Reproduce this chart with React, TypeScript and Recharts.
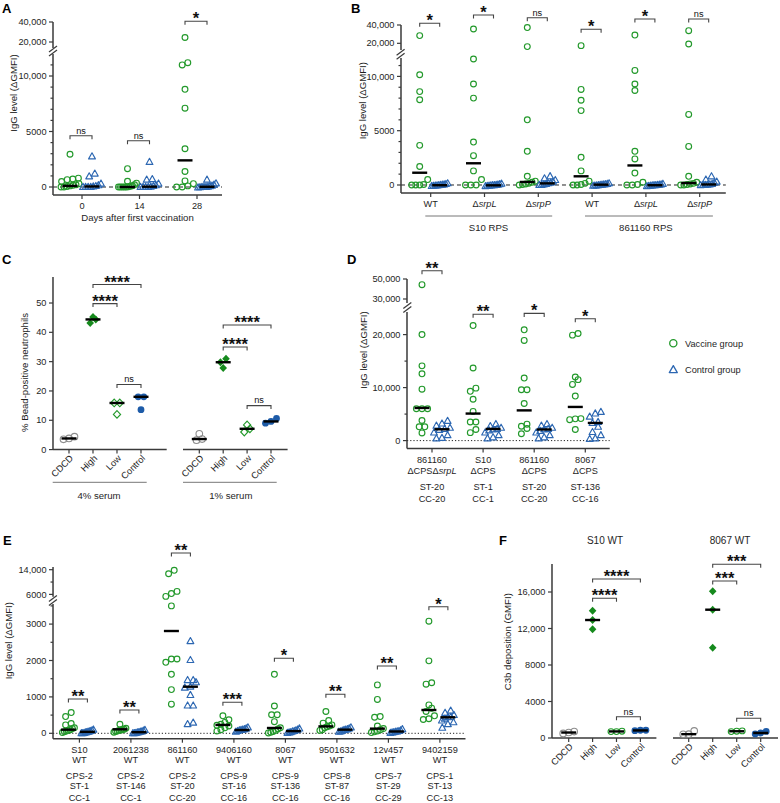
import React from 'react';
import { ScatterChart, Scatter, XAxis, YAxis, ReferenceLine } from 'recharts';

const FONT = '"Liberation Sans", Arial, Helvetica, sans-serif';
const FS = 9.2;
const INK = '#1e1e1e';
const AXC = '#3a3a3a';
const GREEN = '#23992b';
const GREEN_D = '#168a1d';
const BLUE = '#2c67b2';
const BLUE_D = '#1d5ba8';
const GREY = '#8d8d8d';

/* ---------- A: IgG over the vaccination course ---------- */
const daysA = ['0', '14', '28'];
const vaccineA = [
  [2950, 800, 720, 660, 500, 300, 200, 150, 100, 50, 0, 0],
  [1650, 520, 350, 200, 120, 60, 20, 0, 0, 0, 0, 0],
  [24500, 11200, 11000, 8800, 7100, 3450, 1400, 550, 300, 100, 0, 0],
];
const controlA = [
  [2750, 1200, 950, 300, 150, 80, 40, 0, 0, 0, 0],
  [2250, 700, 650, 300, 150, 80, 30, 0, 0, 0, 0],
  [650, 320, 200, 120, 60, 30, 0, 0, 0, -30, -50],
];
const vaccineMedA = [100, 0, 2400];
const controlMedA = [50, 30, 20];
const sigA = ['ns', 'ns', '*'];
const sigLevelA = [4620, 4170, 40700];

/* ---------- B: RPS antigens ---------- */
const strainB = ['WT', 'srpL', 'srpP', 'WT', 'srpL', 'srpP'];
const vaccineB = [
  [28400, 10150, 8600, 7850, 3650, 1700, 500, 50, 0, 0, 0],
  [35600, 11600, 9300, 8000, 3950, 2700, 1300, 500, 0, 0, 0],
  [37200, 16400, 6000, 3100, 800, 350, 250, 150, 100, 50, 0],
  [17450, 8800, 7800, 6850, 2550, 1300, 350, 150, 50, 0, 0],
  [29000, 10550, 9300, 8700, 3100, 2400, 1100, 250, 50, 0, 0],
  [33800, 19300, 6500, 3550, 800, 250, 150, 100, 50, 0, 0],
];
const controlB = [
  [150, 80, 40, 20, 0, -20, -40, -60, -80, -100],
  [120, 60, 30, 0, -20, -30, -50, -70, -90, -110],
  [800, 600, 450, 300, 200, 150, 100, 50, 0, 0],
  [150, 100, 60, 40, 20, 0, -20, -40, -60, -80],
  [100, 50, 20, 0, -20, -30, -50, -70, -90, -110],
  [790, 490, 300, 200, 100, 50, 30, 0, 0, -20],
];
const vaccineMedB = [1130, 2000, 280, 800, 1800, 180];
const controlMedB = [-20, -30, 150, 30, -20, 50];
const sigB = ['*', '*', 'ns', '*', '*', 'ns'];
const sigLevelB = [41850, 50900, 47960, 35310, 46540, 46540];

/* ---------- C: bead uptake by neutrophils ---------- */
const groupsC = ['CDCD', 'High', 'Low', 'Control'];
const cdcd4 = [3.5, 4.4, 3.8];
const high4 = [43.2, 45.2, 44.4];
const low4 = [15.9, 12.0, 15.9];
const control4 = [18.0, 13.6, 18.0];
const med4 = [3.8, 44.4, 15.9, 18.0];
const cdcd1 = [3.2, 5.4, 3.6];
const high1 = [31.0, 27.8, 29.8];
const low1 = [6.0, 8.4, 7.1];
const control1 = [9.0, 10.6, 9.6];
const med1 = [3.6, 29.8, 7.1, 9.6];
const sigC4 = [
  { a: 1, b: 2, y: 49.8, t: '****' },
  { a: 1, b: 3, y: 56.3, t: '****' },
  { a: 2, b: 3, y: 22.2, t: 'ns' },
];
const sigC1 = [
  { a: 1, b: 2, y: 35.0, t: '****' },
  { a: 1, b: 3, y: 42.5, t: '****' },
  { a: 2, b: 3, y: 15.0, t: 'ns' },
];

/* ---------- D: capsule-deficient strains ---------- */
const strainD = ['861160', 'S10', '861160', '8067'];
const mutantD = ['ΔCPSΔsrpL', 'ΔCPS', 'ΔCPS', 'ΔCPS'];
const stD = ['ST-20', 'ST-1', 'ST-20', 'ST-136'];
const ccD = ['CC-20', 'CC-1', 'CC-20', 'CC-16'];
const vaccineD = [
  [44300, 20000, 14100, 12600, 9700, 6000, 6000, 6000, 3800, 2600, 2600, 1450],
  [21700, 13700, 9900, 9300, 7800, 5500, 3500, 3500, 2100, 1500],
  [20900, 18900, 11800, 9600, 9600, 7000, 3100, 2700, 2300, 1300],
  [20200, 19900, 12000, 11500, 10600, 8400, 4150, 4100, 3950, 2100],
];
const controlD = [
  [3700, 3200, 2800, 2400, 2200, 2000, 1500, 1000, 500, 400],
  [3100, 2700, 2400, 2200, 2100, 1900, 1500, 1000, 600, 400],
  [3100, 2800, 2400, 2200, 2100, 1800, 1500, 1000, 600, 400],
  [5400, 5100, 4500, 3500, 3300, 2600, 1600, 1000, 400, 300],
];
const vaccineMedD = [6160, 5100, 5700, 6350];
const controlMedD = [2140, 2200, 2100, 3330];
const sigD = ['**', '**', '*', '*'];
const sigLevelD = [58300, 23830, 24000, 23000];

/* ---------- E: wild-type strains ---------- */
const strainE = ['S10', '2061238', '861160', '9406160', '8067', '9501632', '12v457', '9402159'];
const cpsE = ['CPS-2', 'CPS-2', 'CPS-2', 'CPS-9', 'CPS-9', 'CPS-8', 'CPS-7', 'CPS-1'];
const stE = ['ST-1', 'ST-146', 'ST-20', 'ST-16', 'ST-136', 'ST-87', 'ST-29', 'ST-13'];
const ccE = ['CC-1', 'CC-1', 'CC-20', 'CC-16', 'CC-16', 'CC-16', 'CC-29', 'CC-13'];
const vaccineE = [
  [570, 460, 270, 230, 150, 130, 100, 80, 60, 40, 20],
  [250, 140, 110, 100, 90, 80, 60, 50, 30],
  [13800, 12700, 6970, 6260, 5350, 3500, 2040, 2040, 1950, 1620, 1200, 800],
  [480, 370, 300, 250, 220, 200, 150, 100, 60],
  [1620, 750, 510, 510, 320, 150, 120, 80, 50, 30, 10],
  [600, 350, 280, 230, 200, 180, 150, 100, 80],
  [1330, 930, 460, 440, 200, 130, 100, 60, 40, 20],
  [3080, 1990, 1390, 1350, 780, 690, 600, 480, 400, 380],
];
const controlE = [
  [100, 80, 60, 50, 40, 30, 20, 10, 0, 0],
  [90, 70, 50, 40, 30, 20, 10, 0, 0],
  [2530, 2010, 1460, 1460, 1400, 1280, 1250, 1050, 760, 760, 290, 250],
  [160, 130, 110, 100, 90, 80, 60, 40],
  [130, 100, 80, 60, 50, 30, 20, 10],
  [160, 130, 110, 100, 90, 70, 50, 40],
  [110, 80, 60, 50, 40, 30, 20, 10],
  [620, 560, 500, 450, 440, 400, 350, 300, 250, 150],
];
const vaccineMedE = [100, 110, 2810, 230, 146, 190, 128, 640];
const controlMedE = [40, 30, 1280, 90, 60, 100, 50, 440];
const sigE = ['**', '**', '**', '***', '*', '**', '**', '*'];
const sigLevelE = [942, 640, 19400, 852, 2060, 1071, 1849, 3478];

/* ---------- F: C3b deposition ---------- */
const groupsF = ['CDCD', 'High', 'Low', 'Control'];
const cdcdS10 = [700, 500, 600];
const highS10 = [13950, 12930, 11910];
const lowS10 = [750, 700, 700];
const controlS10 = [850, 800, 850];
const medS10 = [600, 12930, 720, 830];
const cdcd8067 = [770, 400, 420];
const high8067 = [16080, 14060, 9900];
const low8067 = [780, 750, 700];
const control8067 = [720, 450, 550];
const med8067 = [420, 14060, 740, 550];
const sigS10 = [
  { a: 1, b: 2, y: 15310, t: '****' },
  { a: 1, b: 3, y: 17430, t: '****' },
  { a: 2, b: 3, y: 2330, t: 'ns' },
];
const sig8067 = [
  { a: 1, b: 2, y: 17200, t: '***' },
  { a: 1, b: 3, y: 19040, t: '***' },
  { a: 2, b: 3, y: 2160, t: 'ns' },
];

/* ---------- shared drawing helpers ---------- */
type Mark = 'ring' | 'tri' | 'ringGrey' | 'dot' | 'diamond' | 'diamondOpen' | 'median';
type Seg = { top: number; bottom: number; lo: number; hi: number; ticks: [number, string][] };
type Family = { cols: number[]; data: number[][]; med: number[]; offPx: number; mark: Mark; color: string };
type Geo = { l: number; r: number; c0: number; step: number; segs: Seg[]; spread: number };
type Bracket = { a: number; b: number; y: number; t: string };

function ticksEvery(step: number, max: number, labels: Record<number, string>, min = 0): [number, string][] {
  const out: [number, string][] = [];
  for (let v = min; v <= max + 1e-9; v += step) out.push([v, labels[v] ?? '']);
  return out;
}

function drawMark(kind: Mark, cx: number, cy: number, color: string) {
  if (kind === 'median')
    return <line x1={cx - 7.5} x2={cx + 7.5} y1={cy} y2={cy} stroke="#000" strokeWidth={2.4} />;
  if (kind === 'ring')
    return <circle cx={cx} cy={cy} r={2.9} fill="none" stroke={color} strokeWidth={1.15} />;
  if (kind === 'tri')
    return (
      <path d={`M${cx},${cy - 3.7}L${cx + 3.4},${cy + 2.4}L${cx - 3.4},${cy + 2.4}Z`} fill="none"
        stroke={color} strokeWidth={1.15} strokeLinejoin="round" />
    );
  if (kind === 'dot') return <circle cx={cx} cy={cy} r={3.4} fill={color} />;
  if (kind === 'diamond')
    return <path d={`M${cx},${cy - 4}L${cx + 3.8},${cy}L${cx},${cy + 4}L${cx - 3.8},${cy}Z`} fill={color} />;
  if (kind === 'diamondOpen')
    return (
      <path d={`M${cx},${cy - 3.8}L${cx + 3.6},${cy}L${cx},${cy + 3.8}L${cx - 3.6},${cy}Z`} fill="none"
        stroke={color} strokeWidth={1.15} />
    );
  return <circle cx={cx} cy={cy} r={3.3} fill="none" stroke={color} strokeWidth={1.1} />;
}

function drawBracket(lp: any, text: string) {
  const { x1, x2, y1 } = lp;
  const star = text !== 'ns';
  return (
    <g>
      <path d={`M${x1},${y1 + 3.5}V${y1}H${x2}V${y1 + 3.5}`} fill="none" stroke="#444" strokeWidth={1.1} />
      <text x={(x1 + x2) / 2} y={star ? y1 + 3 : y1 - 2.2} textAnchor="middle" fontFamily={FONT}
        fontSize={star ? 16.5 : FS} fontWeight={star ? 700 : 400} fill="#111">
        {text}
      </text>
    </g>
  );
}

function segPx(s: Seg, v: number) {
  return s.bottom - ((v - s.lo) / (s.hi - s.lo)) * (s.bottom - s.top);
}
function pxOf(segs: Seg[], v: number) {
  const s = segs.find((q) => v >= q.lo && v <= q.hi) ?? (v > segs[0].hi ? segs[0] : segs[segs.length - 1]);
  return segPx(s, v);
}
// horizontal spread of points that share a row, in pixels
function spreadOffsets(vals: number[], segs: Seg[], spread: number, rowH = 5.5, gap = 5.6) {
  const idx = vals.map((_, i) => i).sort((a, b) => vals[a] - vals[b]);
  const out = new Array(vals.length).fill(0);
  let row: number[] = [];
  let rowStart = 0;
  const flush = () => {
    const n = row.length;
    const sp = n > 1 ? Math.min(gap, (2 * spread) / (n - 1)) : 0;
    row.forEach((id, k) => (out[id] = (k - (n - 1) / 2) * sp));
  };
  for (const id of idx) {
    const py = pxOf(segs, vals[id]);
    if (row.length && rowStart - py < rowH) row.push(id);
    else {
      if (row.length) flush();
      row = [id];
      rowStart = py;
    }
  }
  flush();
  return out;
}

const yTick = (ticks: [number, string][]) => (tp: any) => {
  const { x, y, payload } = tp;
  const k = ticks.find((q) => Math.abs(q[0] - payload.value) < 1e-6);
  const lab = k ? k[1] : '';
  return (
    <g>
      <line x1={x - (lab ? 4 : 2.5)} x2={x} y1={y} y2={y} stroke={AXC} strokeWidth={1.2} />
      {lab && (
        <text x={x - 6.5} y={y} dy="0.34em" textAnchor="end" fontSize={FS} fill={INK} fontFamily={FONT}>
          {lab}
        </text>
      )}
    </g>
  );
};

type PlotProps = {
  l: number;
  r: number;
  seg: Seg;
  xd: number[];
  xCount: number;
  xLabel?: (i: number, x: number, y: number) => React.ReactNode;
  showY: boolean;
  series: { pts: { x: number; y: number }[]; mark: Mark; color: string }[];
  brackets: Bracket[];
  zero?: string;
};

function Plot({ l, r, seg, xd, xCount, xLabel, showY, series, brackets, zero }: PlotProps) {
  const PL = 62, PT = 46, PR = 16;
  const PB = xLabel ? 90 : 6;
  const w = r - l + PL + PR;
  const h = seg.bottom - seg.top + PT + PB;
  const xTicks = Array.from({ length: xCount }, (_, i) => i);
  return (
    <div style={{ position: 'absolute', left: l - PL, top: seg.top - PT, width: w, height: h }}>
      <ScatterChart width={w} height={h}
        margin={{ top: PT, right: PR, bottom: xLabel ? 0 : PB, left: showY ? 0 : PL }}>
        <XAxis type="number" dataKey="x" domain={xd} hide={!xLabel} height={PB} ticks={xTicks} interval={0}
          tickLine={false} tickSize={0} tickMargin={0} axisLine={{ stroke: AXC, strokeWidth: 1.5 }}
          tick={(tp: any) =>
            xLabel ? (
              <g>
                <line x1={tp.x} x2={tp.x} y1={tp.y} y2={tp.y + 4} stroke={AXC} strokeWidth={1.2} />
                {xLabel(Math.round(tp.payload.value), tp.x, tp.y)}
              </g>
            ) : (
              <g />
            )
          } />
        <YAxis type="number" dataKey="y" domain={[seg.lo, seg.hi]} hide={!showY} width={PL}
          ticks={seg.ticks.map((t) => t[0])} interval={0} tickLine={false} tickSize={0} tickMargin={0}
          axisLine={{ stroke: AXC, strokeWidth: 1.5 }} tick={yTick(seg.ticks)} />
        {zero && <ReferenceLine y={0} stroke="#222" strokeWidth={1} strokeDasharray={zero} />}
        {series.map((s, i) => (
          <Scatter key={i} data={s.pts} isAnimationActive={false}
            shape={(sp: any) => drawMark(s.mark, sp.cx, sp.cy, s.color)} />
        ))}
        {brackets.map((bk, i) => (
          <ReferenceLine key={'b' + i} segment={[{ x: bk.a, y: bk.y }, { x: bk.b, y: bk.y }]} ifOverflow="visible"
            shape={(lp: any) => drawBracket(lp, bk.t)} />
        ))}
      </ScatterChart>
    </div>
  );
}

function Panel(props: {
  geo: Geo;
  fams: Family[];
  brackets: Bracket[];
  xCount: number;
  xLabel: (i: number, x: number, y: number) => React.ReactNode;
  zero?: string;
  showY?: boolean;
}) {
  const { geo, fams, brackets, xCount, xLabel, zero, showY = true } = props;
  const xd = [(geo.l - geo.c0) / geo.step, (geo.r - geo.c0) / geo.step];
  const pts = fams.map((f) => {
    const flat: { x: number; y: number }[] = [];
    f.cols.forEach((c, j) => {
      const offs = spreadOffsets(f.data[j], geo.segs, geo.spread);
      f.data[j].forEach((v, i) => flat.push({ x: c + (f.offPx + offs[i]) / geo.step, y: v }));
    });
    return flat;
  });
  const meds = fams.flatMap((f) => f.cols.map((c, j) => ({ x: c + f.offPx / geo.step, y: f.med[j] })));
  const segOf = (y: number) => {
    if (y >= geo.segs[0].lo) return 0;
    const k = geo.segs.findIndex((s) => y >= s.lo && y <= s.hi);
    return k < 0 ? geo.segs.length - 1 : k;
  };
  return (
    <>
      {geo.segs.map((s, si) => {
        const inS = (p: { y: number }) => p.y >= s.lo && p.y <= s.hi;
        const last = si === geo.segs.length - 1;
        const series = [
          ...fams.map((f, fi) => ({ pts: pts[fi].filter(inS), mark: f.mark, color: f.color })),
          { pts: meds.filter(inS), mark: 'median' as Mark, color: '#000' },
        ];
        return (
          <Plot key={si} l={geo.l} r={geo.r} seg={s} xd={xd} xCount={xCount} xLabel={last ? xLabel : undefined}
            showY={showY} series={series} brackets={brackets.filter((b) => segOf(b.y) === si)}
            zero={last ? zero : undefined} />
        );
      })}
    </>
  );
}

const txt = { fontFamily: FONT, fontSize: FS, fill: INK } as const;
const range = (n: number) => Array.from({ length: n }, (_, i) => i);

/* ---------- geometry ---------- */
const geoA: Geo = {
  l: 53, r: 222, c0: 82, step: 57.5, spread: 9,
  segs: [
    { top: 22, bottom: 48, lo: 14000, hi: 40000, ticks: [[20000, '20,000'], [40000, '40,000']] },
    { top: 54, bottom: 195, lo: -720, hi: 11982, ticks: ticksEvery(1000, 11000, { 0: '0', 5000: '5000', 10000: '10,000' }) },
  ],
};
const geoB: Geo = {
  l: 400.6, r: 725.4, c0: 430.3, step: 53.8, spread: 8,
  segs: [
    { top: 25, bottom: 50, lo: 12700, hi: 40000, ticks: [[20000, '20,000'], [40000, '40,000']] },
    { top: 58.3, bottom: 193.3, lo: -737, hi: 11694, ticks: ticksEvery(1000, 11000, { 0: '0', 5000: '5000', 10000: '10,000' }) },
  ],
};
const segC: Seg = { top: 276.7, bottom: 449.3, lo: 0, hi: 58.87, ticks: ticksEvery(10, 50, { 0: '0', 10: '10', 20: '20', 30: '30', 40: '40', 50: '50' }) };
const geoC4: Geo = { l: 53.3, r: 167, c0: 69.3, step: 24, spread: 5.5, segs: [segC] };
const geoC1: Geo = { l: 182.7, r: 287.3, c0: 199, step: 23.9, spread: 5.5, segs: [segC] };
const geoD: Geo = {
  l: 407.3, r: 610, c0: 432.3, step: 51.1, spread: 8,
  segs: [
    { top: 279.3, bottom: 303.3, lo: 26000, hi: 50000, ticks: [[30000, '30,000'], [50000, '50,000']] },
    { top: 311.7, bottom: 448.3, lo: -1509, hi: 24264, ticks: ticksEvery(5000, 20000, { 0: '0', 10000: '10,000', 20000: '20,000' }) },
  ],
};
const geoE: Geo = {
  l: 52.9, r: 465.4, c0: 79.3, step: 51.5, spread: 6,
  segs: [
    { top: 567.3, bottom: 597, lo: 5255, hi: 14875, ticks: [[6000, '6000'], [10000, ''], [14000, '14,000']] },
    { top: 604, bottom: 738.7, lo: -148, hi: 3552, ticks: ticksEvery(500, 3500, { 0: '0', 1000: '1000', 2000: '2000', 3000: '3000' }) },
  ],
};
const segF: Seg = { top: 564, bottom: 738, lo: 0, hi: 19068, ticks: ticksEvery(4000, 16000, { 0: '0', 4000: '4000', 8000: '8000', 12000: '12,000', 16000: '16,000' }) };
const geoF1: Geo = { l: 552.3, r: 656.7, c0: 569, step: 23.9, spread: 5.5, segs: [segF] };
const geoF2: Geo = { l: 673.3, r: 778.3, c0: 689, step: 24, spread: 5.5, segs: [segF] };

function pairFamilies(vacc: number[][], ctrl: number[][], vm: number[], cm: number[], offV: number, offC: number): Family[] {
  const cols = range(vacc.length);
  return [
    { cols, data: vacc, med: vm, offPx: offV, mark: 'ring', color: GREEN },
    { cols, data: ctrl, med: cm, offPx: offC, mark: 'tri', color: BLUE },
  ];
}
function pairBrackets(sig: string[], lvl: number[], step: number, offV: number, offC: number): Bracket[] {
  return sig.map((t, i) => ({ a: i + offV / step, b: i + offC / step, y: lvl[i], t }));
}
function quadFamilies(cd: number[], hi: number[], lo: number[], ct: number[], med: number[]): Family[] {
  return [
    { cols: [0], data: [cd], med: [med[0]], offPx: 0, mark: 'ringGrey', color: GREY },
    { cols: [1], data: [hi], med: [med[1]], offPx: 0, mark: 'diamond', color: GREEN_D },
    { cols: [2], data: [lo], med: [med[2]], offPx: 0, mark: lo === low4 || lo === low1 ? 'diamondOpen' : 'ring', color: GREEN },
    { cols: [3], data: [ct], med: [med[3]], offPx: 0, mark: 'dot', color: BLUE_D },
  ];
}

/* ---------- axis label renderers ---------- */
const labelA = (i: number, x: number, y: number) => (
  <text x={x} y={y + 10.5} dy="0.35em" textAnchor="middle" {...txt}>{daysA[i]}</text>
);
const labelB = (i: number, x: number, y: number) => {
  const s = strainB[i];
  return (
    <text x={x} y={y + 11} dy="0.35em" textAnchor="middle" {...txt}>
      {s === 'WT' ? 'WT' : <>Δ<tspan fontStyle="italic">{s}</tspan></>}
    </text>
  );
};
const rotLabel = (names: string[]) => (i: number, x: number, y: number) => (
  <text transform={`translate(${x + 2.5},${y + 7}) rotate(-45)`} textAnchor="end" dy="0.35em" {...txt}>{names[i]}</text>
);
const mutant = (m: string) =>
  m.endsWith('srpL') ? <>{m.slice(0, -4)}<tspan fontStyle="italic">srpL</tspan></> : m;
const labelD = (i: number, x: number, y: number) => (
  <g>
    {[strainD[i], mutantD[i], stD[i], ccD[i]].map((s, k) => (
      <text key={k} x={x} y={y + [10.7, 21.7, 38.4, 50][k]} dy="0.35em" textAnchor="middle" {...txt}>
        {k === 1 ? mutant(s) : s}
      </text>
    ))}
  </g>
);
const labelE = (i: number, x: number, y: number) => (
  <g>
    {[strainE[i], 'WT', cpsE[i], stE[i], ccE[i]].map((s, k) => (
      <text key={k} x={x} y={y + [10.6, 21.3, 36.6, 47.3, 58.6][k]} dy="0.35em" textAnchor="middle" {...txt}>{s}</text>
    ))}
  </g>
);

/* ---------- annotation layer ---------- */
function BreakMark({ x, y }: { x: number; y: number }) {
  return (
    <g stroke={AXC} strokeWidth={1.2}>
      <line x1={x - 4} y1={y + 1} x2={x + 4} y2={y - 5} />
      <line x1={x - 4} y1={y + 5} x2={x + 4} y2={y - 1} />
    </g>
  );
}
function YTitle({ x, y, children }: { x: number; y: number; children: React.ReactNode }) {
  return (
    <text transform={`translate(${x},${y}) rotate(-90)`} textAnchor="middle" dy="0.35em" fontFamily={FONT} fontSize={9.6} fill={INK}>
      {children}
    </text>
  );
}
function Letter({ x, y, c }: { x: number; y: number; c: string }) {
  return <text x={x} y={y} fontFamily={FONT} fontSize={13} fontWeight={700} fill="#000">{c}</text>;
}

function Annotations() {
  const line = { stroke: '#777', strokeWidth: 1 };
  return (
    <svg width={780} height={803} style={{ position: 'absolute', left: 0, top: 0, pointerEvents: 'none' }}>
      <Letter x={2} y={13.3} c="A" />
      <Letter x={351} y={13.3} c="B" />
      <Letter x={2} y={264} c="C" />
      <Letter x={347} y={264} c="D" />
      <Letter x={3} y={545} c="E" />
      <Letter x={499} y={545} c="F" />

      <YTitle x={13.3} y={93}>IgG level (ΔGMFI)</YTitle>
      <YTitle x={362.3} y={100.7}>IgG level (ΔGMFI)</YTitle>
      <YTitle x={25} y={372.5}>% Bead-positive neutrophils</YTitle>
      <YTitle x={363.3} y={350}>IgG level (ΔGMFI)</YTitle>
      <YTitle x={8.9} y={640.7}>IgG level (ΔGMFI)</YTitle>
      <YTitle x={507.3} y={641.7}>C3b deposition (GMFI)</YTitle>

      <text x={137.5} y={218} dy="0.35em" textAnchor="middle" fontFamily={FONT} fontSize={9.6} fill={INK}>Days after first vaccination</text>

      <line x1={425.3} x2={552.2} y1={216} y2={216} {...line} />
      <line x1={585} x2={712.9} y1={216} y2={216} {...line} />
      <text x={488.5} y={228} dy="0.35em" textAnchor="middle" fontFamily={FONT} fontSize={9.6} fill={INK}>S10 RPS</text>
      <text x={645.9} y={228} dy="0.35em" textAnchor="middle" fontFamily={FONT} fontSize={9.6} fill={INK}>861160 RPS</text>

      <line x1={52.7} x2={146.7} y1={482.3} y2={482.3} {...line} />
      <line x1={183} x2={276.7} y1={482.3} y2={482.3} {...line} />
      <text x={99} y={496} dy="0.35em" textAnchor="middle" fontFamily={FONT} fontSize={9.6} fill={INK}>4% serum</text>
      <text x={230.8} y={496} dy="0.35em" textAnchor="middle" fontFamily={FONT} fontSize={9.6} fill={INK}>1% serum</text>

      <text x={605} y={540} dy="0.35em" textAnchor="middle" fontFamily={FONT} fontSize={10} fill={INK}>S10 WT</text>
      <text x={730} y={540} dy="0.35em" textAnchor="middle" fontFamily={FONT} fontSize={10} fill={INK}>8067 WT</text>

      <circle cx={673.3} cy={343.3} r={3.6} fill="none" stroke={GREEN} strokeWidth={1.3} />
      <text x={685} y={343.3} dy="0.35em" fontFamily={FONT} fontSize={9.2} fill={INK}>Vaccine group</text>
      <path d="M673.3,365.6L677.3,372.6L669.3,372.6Z" fill="none" stroke={BLUE} strokeWidth={1.3} strokeLinejoin="round" />
      <text x={685} y={370} dy="0.35em" fontFamily={FONT} fontSize={9.2} fill={INK}>Control group</text>

      <BreakMark x={53} y={51} />
      <BreakMark x={400.6} y={54.2} />
      <BreakMark x={407.3} y={307.5} />
      <BreakMark x={52.9} y={600.5} />
    </svg>
  );
}

export default function App() {
  const offA = [-12, 10];
  const offB = [-11, 9];
  const offD = [-10, 10];
  const offE = [-11, 8];
  return (
    <div style={{ position: 'absolute', left: 0, top: 0, width: 780, height: 803, overflow: 'hidden', background: '#fff' }}>
      <Panel geo={geoA} xCount={3} xLabel={labelA} zero="4 3"
        fams={pairFamilies(vaccineA, controlA, vaccineMedA, controlMedA, offA[0], offA[1])}
        brackets={pairBrackets(sigA, sigLevelA, geoA.step, offA[0], offA[1])} />
      <Panel geo={geoB} xCount={6} xLabel={labelB} zero="4 3"
        fams={pairFamilies(vaccineB, controlB, vaccineMedB, controlMedB, offB[0], offB[1])}
        brackets={pairBrackets(sigB, sigLevelB, geoB.step, offB[0], offB[1])} />
      <Panel geo={geoC4} xCount={4} xLabel={rotLabel(groupsC)}
        fams={quadFamilies(cdcd4, high4, low4, control4, med4)} brackets={sigC4} />
      <Panel geo={geoC1} xCount={4} xLabel={rotLabel(groupsC)} showY={false}
        fams={quadFamilies(cdcd1, high1, low1, control1, med1)} brackets={sigC1} />
      <Panel geo={geoD} xCount={4} xLabel={labelD} zero="1.2 2"
        fams={pairFamilies(vaccineD, controlD, vaccineMedD, controlMedD, offD[0], offD[1])}
        brackets={pairBrackets(sigD, sigLevelD, geoD.step, offD[0], offD[1])} />
      <Panel geo={geoE} xCount={8} xLabel={labelE} zero="1.2 2"
        fams={pairFamilies(vaccineE, controlE, vaccineMedE, controlMedE, offE[0], offE[1])}
        brackets={pairBrackets(sigE, sigLevelE, geoE.step, offE[0], offE[1])} />
      <Panel geo={geoF1} xCount={4} xLabel={rotLabel(groupsF)}
        fams={quadFamilies(cdcdS10, highS10, lowS10, controlS10, medS10)} brackets={sigS10} />
      <Panel geo={geoF2} xCount={4} xLabel={rotLabel(groupsF)} showY={false}
        fams={quadFamilies(cdcd8067, high8067, low8067, control8067, med8067)} brackets={sig8067} />
      <Annotations />
    </div>
  );
}
